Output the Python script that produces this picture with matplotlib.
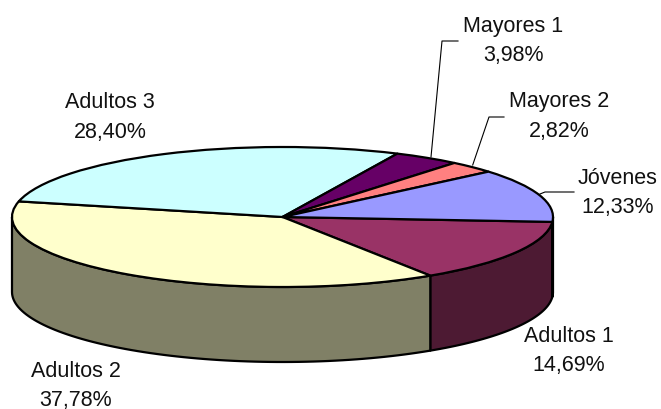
import numpy as np
import matplotlib
matplotlib.use("Agg")
import matplotlib.pyplot as plt
from matplotlib.patches import Wedge, Polygon
from matplotlib.transforms import Affine2D

categories = ["Adultos 1", "Adultos 2", "Adultos 3", "Mayores 1", "Mayores 2", "Jóvenes"]
values = [14.69, 37.78, 28.40, 3.98, 2.82, 12.33]
value_labels = ["14,69%", "37,78%", "28,40%", "3,98%", "2,82%", "12,33%"]
top_colors = ["#993366", "#FFFFCC", "#CCFFFF", "#660066", "#FF8080", "#9999FF"]
side_colors = ["#4D1A33", "#808066", "#668080", "#330033", "#804040", "#4D4D80"]

plt.rcParams["font.family"] = ["Liberation Sans", "DejaVu Sans"]
fig = plt.figure(figsize=(6.61, 4.10), dpi=100)
ax = fig.add_axes([0, 0, 1, 1])
ax.set_xlim(0, 661)
ax.set_ylim(410, 0)
ax.axis("off")

cx, cy, rx, ry, depth = 282.5, 218, 270.5, 70, 75
start = 4
LW = 1.6
edges = start + np.concatenate([[0], np.cumsum(values)]) * 3.6


def rim(a0, a1, n=80):
    t = np.radians(np.linspace(a0, a1, n))
    return cx + rx * np.cos(t), cy + ry * np.sin(t)


# side walls (visible where the rim faces the viewer: 0..180 deg, and 360..)
for i in range(len(values)):
    a0, a1 = edges[i], edges[i + 1]
    for lo, hi in ((0, 180), (360, 540)):
        s, e = max(a0, lo), min(a1, hi)
        if e > s:
            x, y = rim(s, e)
            pts = np.vstack([np.c_[x, y], np.c_[x[::-1], y[::-1] + depth]])
            ax.add_patch(Polygon(pts, closed=True, fc=side_colors[i], ec="black",
                                 lw=LW, joinstyle="round", zorder=2))

# top faces
tf = Affine2D().scale(rx, ry).translate(cx, cy) + ax.transData
for i in range(len(values)):
    ax.add_patch(Wedge((0, 0), 1, edges[i], edges[i + 1], fc=top_colors[i], ec="black",
                       lw=LW, transform=tf, zorder=3, joinstyle="round"))

# labels
label_pos = [(569, 351), (76, 386), (110, 117.5), (513, 41), (559, 116.5), (618, 193)]
for name, val, (x, y) in zip(categories, value_labels, label_pos):
    ax.text(x, y, f"{name}\n{val}", ha="center", va="center", fontsize=15.5,
            linespacing=1.56, color="#111111", zorder=5)

# leader lines
leaders = [[(458, 42), (442, 42), (431, 158)],
           [(504, 118), (489, 118), (472.7, 166)],
           [(574, 193), (545, 193), (540, 195)]]
for pts in leaders:
    xs, ys = zip(*pts)
    ax.plot(xs, ys, color="black", lw=0.8, zorder=4)

fig.savefig("out.png", dpi=100)
